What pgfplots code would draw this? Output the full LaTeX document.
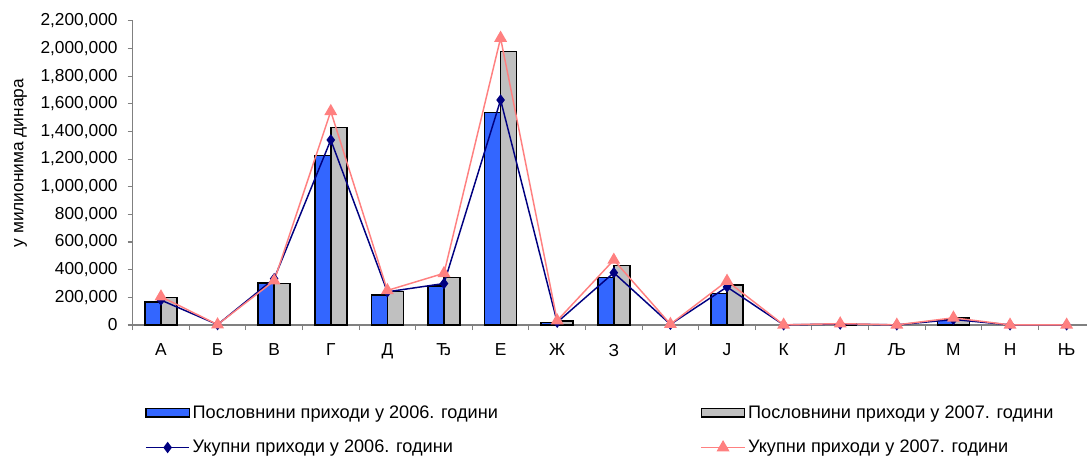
\documentclass[border=0pt]{standalone}
\usepackage{fontspec}
\setmainfont{Liberation Sans}
\usepackage{pgfplots}
\pgfplotsset{compat=1.18}
\definecolor{barblue}{RGB}{51,102,255}
\definecolor{bargray}{RGB}{192,192,192}
\definecolor{navyline}{RGB}{0,0,128}
\definecolor{pinkline}{RGB}{255,128,128}
\definecolor{axgray}{RGB}{128,128,128}
\newcommand\cf{\fontsize{13}{15}\selectfont}
\newcommand\lf{\fontsize{13.6}{16}\selectfont}
\pgfplotsset{
 barleg/.style={legend image code/.code={\draw[##1] (0pt,-3.2pt) rectangle (32.5pt,3.2pt);}},
 lineleg/.style={legend image code/.code={\draw[mark repeat=2, mark phase=2, ##1] plot coordinates {(0pt,0pt) (16.25pt,0pt) (32.5pt,0pt)};}},
}
\begin{document}
\begin{tikzpicture}
\path[use as bounding box] (0,0) rectangle (815.25pt,341.25pt);
\begin{axis}[
 at={(99.5pt,97.5pt)}, anchor=south west,
 scale only axis, width=715.75pt, height=228.2pt,
 xmin=-0.5, xmax=16.36, ymin=0, ymax=2200000,
 clip=false,
 axis x line=bottom, axis y line=left,
 axis line style={-, draw=axgray, line width=0.8pt},
 xtick={0,...,16},
 xticklabels={А,Б,В,Г,Д,Ђ,Е,Ж,З,И,Ј,К,Л,Љ,М,Н,Њ},
 major x tick style={draw=none},
 minor xtick={-0.5,0.5,...,15.5},
 minor x tick style={draw=axgray, line width=0.8pt},
 ytick={0,200000,...,2200000},
 y tick style={draw=axgray, line width=0.8pt},
 tick align=outside, major tick length=3.75pt, minor tick length=3.75pt,
 scaled y ticks=false,
 tick label style={font=\cf},
 xticklabel style={yshift=-7pt},
 yticklabel style={xshift=-4pt},
 /pgf/number format/fixed,
 /pgf/number format/1000 sep={,},
 /pgf/number format/assume math mode=true,
 ylabel={у милионима динара},
 every axis y label/.style={at={(axis description cs:-0.1176,0.532)}, rotate=90, anchor=center, font=\cf},
 legend columns=2,
 legend cell align=left,
 legend style={at={(axis description cs:0.0129,-0.255)}, anchor=north west, draw=none, fill=none, font=\lf, inner sep=0pt, row sep=11pt, /tikz/every even column/.append style={column sep=150pt}},
]
\addplot[ybar, bar width=12pt, bar shift=-6pt, fill=barblue, draw=black, line width=1.1pt, barleg]
 coordinates {(0,165000) (2,304000) (3,1224000) (4,217000) (5,282000) (6,1538000) (7,20000) (8,342000) (10,229000) (14,36000)};
\addlegendentry{Пословнини приходи у 2006. години}
\addplot[ybar, bar width=12pt, bar shift=6pt, fill=bargray, draw=black, line width=1.1pt, barleg]
 coordinates {(0,200000) (2,300000) (3,1427000) (4,244000) (5,345000) (6,1979000) (7,28000) (8,429000) (10,289000) (12,10000) (14,52000)};
\addlegendentry{Пословнини приходи у 2007. години}
\addplot[navyline, line width=1.1pt, mark=diamond*, mark size=3.4pt, mark options={solid, fill=navyline}, lineleg]
 coordinates {(0,180000) (1,3000) (2,335000) (3,1338000) (4,240000) (5,300000) (6,1627000) (7,20000) (8,378000) (9,5000) (10,275000) (11,1000) (12,7000) (13,1000) (14,40000) (15,1000) (16,1000)};
\addlegendentry{Укупни приходи у 2006. години}
\addplot[pinkline, line width=1.1pt, mark=triangle*, mark size=4.5pt, mark options={solid, fill=pinkline}, lineleg]
 coordinates {(0,205000) (1,3000) (2,320000) (3,1545000) (4,250000) (5,374000) (6,2075000) (7,32000) (8,470000) (9,6000) (10,318000) (11,1000) (12,10000) (13,1000) (14,52000) (15,1000) (16,1000)};
\addlegendentry{Укупни приходи у 2007. години}
\end{axis}
\end{tikzpicture}
\end{document}
